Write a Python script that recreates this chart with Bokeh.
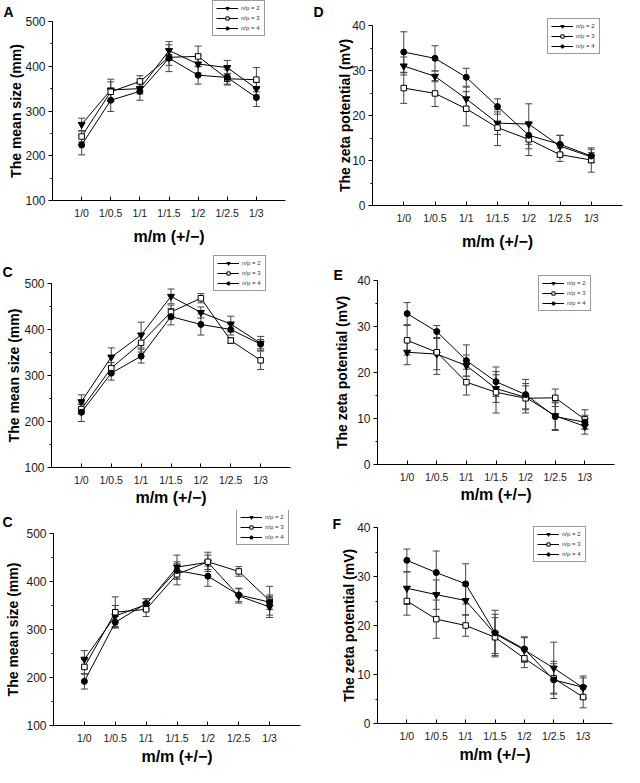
from bokeh.plotting import figure
from bokeh.models import (ColumnDataSource, Whisker, TeeHead, Legend, LegendItem, Label,
                          FixedTicker, SingleIntervalTicker, Range1d)
from bokeh.layouts import column, row
from bokeh.embed import file_html
from bokeh.resources import INLINE

FONT = "Liberation Sans"

# ---------------- data ----------------
cats = ["1/0", "1/0.5", "1/1", "1/1.5", "1/2", "1/2.5", "1/3"]
series_names = ["n/p = 2", "n/p = 3", "n/p = 4"]

# Panel A (mean size)
a_np2 = [270, 347, 350, 435, 405, 397, 350]
a_np2_err = [14, 24, 12, 20, 20, 16, 14]
a_np3 = [243, 343, 366, 420, 422, 372, 370]
a_np3_err = [12, 22, 13, 18, 23, 12, 27]
a_np4 = [224, 324, 344, 418, 380, 375, 330]
a_np4_err = [22, 25, 20, 30, 20, 17, 20]

# Panel D (zeta)
d_np2 = [31.0, 28.7, 23.7, 18.3, 18.1, 13.2, 10.8]
d_np2_err = [2.0, 1.2, 2.6, 2.5, 4.5, 2.4, 1.0]
d_np3 = [26.1, 24.9, 21.5, 17.3, 14.7, 11.3, 10.1]
d_np3_err = [3.4, 2.9, 3.8, 4.0, 3.6, 1.5, 2.7]
d_np4 = [34.1, 32.7, 28.5, 22.0, 15.6, 13.6, 11.0]
d_np4_err = [4.5, 2.8, 2.0, 1.7, 3.0, 2.0, 1.5]

# Panel C, second row (mean size)
c_np2 = [243, 340, 388, 472, 437, 412, 370]
c_np2_err = [15, 20, 28, 16, 12, 17, 15]
c_np3 = [227, 316, 371, 438, 468, 376, 333]
c_np3_err = [10, 12, 20, 15, 10, 6, 20]
c_np4 = [220, 305, 342, 428, 411, 400, 368]
c_np4_err = [20, 15, 15, 18, 23, 12, 10]

# Panel E (zeta)
e_np2 = [24.4, 24.0, 21.5, 16.5, 14.6, 10.6, 8.3]
e_np2_err = [2.7, 3.4, 2.3, 3.0, 2.5, 3.0, 1.7]
e_np3 = [27.0, 24.4, 17.9, 15.7, 14.4, 14.5, 9.8]
e_np3_err = [3.2, 4.8, 2.8, 4.5, 3.2, 1.9, 2.1]
e_np4 = [32.8, 28.9, 22.6, 18.0, 15.2, 10.4, 9.2]
e_np4_err = [2.4, 1.3, 3.4, 3.2, 3.3, 3.0, 1.5]

# Panel C, third row (mean size)
g_np2 = [238, 328, 352, 430, 440, 370, 347]
g_np2_err = [18, 22, 12, 25, 15, 15, 22]
g_np3 = [222, 336, 342, 415, 441, 421, 360]
g_np3_err = [15, 32, 15, 22, 20, 10, 30]
g_np4 = [192, 315, 354, 423, 411, 372, 357]
g_np4_err = [16, 12, 10, 18, 21, 14, 15]

# Panel F (zeta)
f_np2 = [27.6, 26.3, 25.1, 18.3, 15.0, 11.3, 7.3]
f_np2_err = [3.3, 3.0, 3.0, 4.0, 2.5, 5.3, 2.0]
f_np3 = [25.0, 21.3, 20.0, 17.6, 13.3, 9.2, 5.4]
f_np3_err = [2.9, 3.9, 2.2, 4.0, 1.9, 3.0, 2.2]
f_np4 = [33.3, 30.8, 28.5, 18.5, 15.2, 8.9, 7.4]
f_np4_err = [2.3, 4.4, 4.1, 4.6, 2.5, 3.8, 2.3]

SIZE_LABEL = "The mean size (mm)"
ZETA_LABEL = "The zeta potential (mV)"
X_LABEL = "m/m (+/\u2212)"

MARKERS = [("inverted_triangle", 7, "black"), ("square", 5.5, "white"), ("circle", 6, "black")]
LEG_H = 34
X0, X1 = -1, 7


def make_panel(letter, ylab, y0, y1, step, series, geom):
    # W, H: figure size; L, R, T, B: distance of the axis box from the figure edges
    W, H, L, R, T, B = geom["size"]
    aw = W - L - R
    ah = H - T - B
    xr = Range1d(X0 - L * (X1 - X0) / aw, X1 + R * (X1 - X0) / aw)
    yr = Range1d(y0 - B * (y1 - y0) / ah, y1 + T * (y1 - y0) / ah)
    p = figure(width=W, height=H, output_backend="svg", toolbar_location=None,
               x_range=xr, y_range=yr, min_border=0,
               x_axis_location="below", y_axis_location="left")
    p.outline_line_color = None
    p.grid.visible = False
    p.background_fill_color = "white"
    p.border_fill_color = "white"

    xs = list(range(len(cats)))
    items = []
    for name, (vals, errs), (mk, ms, fill) in zip(series_names, series, MARKERS):
        src = ColumnDataSource(dict(x=xs, y=vals,
                                    up=[v + e for v, e in zip(vals, errs)],
                                    lo=[v - e for v, e in zip(vals, errs)]))
        w = Whisker(source=src, base="x", upper="up", lower="lo",
                    line_color="#444444", line_width=1,
                    upper_head=TeeHead(size=7, line_color="#444444", line_width=1),
                    lower_head=TeeHead(size=7, line_color="#444444", line_width=1))
        p.add_layout(w)
        ln = p.line("x", "y", source=src, line_color="black", line_width=1)
        sc = p.scatter("x", "y", source=src, marker=mk, size=ms, fill_color=fill,
                       line_color="black", line_width=1)
        items.append(LegendItem(label=name, renderers=[ln, sc]))

    lx, ly = geom["legend"]
    leg = Legend(items=items, location=(lx, H - ly - LEG_H),
                 label_text_font_size="6px", label_text_font=FONT, label_text_color="#333333",
                 glyph_width=22, glyph_height=8, label_height=8, label_standoff=3,
                 spacing=2, padding=3, margin=0,
                 border_line_color="#333333", border_line_width=1,
                 background_fill_color="white", background_fill_alpha=1)
    p.add_layout(leg)

    tx, ty = geom["label"]
    p.add_layout(Label(x=tx, y=H - ty, x_units="screen", y_units="screen",
                       text=letter, text_font=FONT, text_font_style="bold",
                       text_font_size="14px", text_baseline="top", text_align="left",
                       text_color="black"))

    # x axis, pinned at y0 inside the full-canvas frame
    xa = p.xaxis[0]
    xa.fixed_location = y0
    xa.bounds = (X0, X1)
    xa.ticker = FixedTicker(ticks=xs)
    xa.major_label_overrides = {i: c for i, c in enumerate(cats)}
    xa.major_tick_in = 4
    xa.major_tick_out = 0
    xa.minor_tick_line_color = None
    xa.major_label_text_font = FONT
    xa.major_label_text_font_size = "10.5px"
    xa.major_label_text_color = "#1a1a1a"
    xa.major_label_standoff = 6
    xa.axis_label = X_LABEL
    xa.axis_label_text_font = FONT
    xa.axis_label_text_font_style = "bold"
    xa.axis_label_text_font_size = "16px"
    xa.axis_label_text_color = "black"
    xa.axis_label_standoff = geom["xstand"]
    xa.axis_line_color = "black"
    xa.major_tick_line_color = "black"

    # y axis, pinned at X0
    ya = p.yaxis[0]
    ya.fixed_location = X0
    ya.bounds = (y0, y1)
    ya.ticker = SingleIntervalTicker(interval=step, num_minor_ticks=2)
    ya.major_tick_out = 4
    ya.major_tick_in = 0
    ya.minor_tick_out = 2
    ya.minor_tick_in = 0
    ya.major_label_text_font = FONT
    ya.major_label_text_font_size = "12px"
    ya.major_label_text_color = "#1a1a1a"
    ya.major_label_standoff = 3
    ya.axis_label = ylab
    ya.axis_label_text_font = FONT
    ya.axis_label_text_font_style = "bold"
    ya.axis_label_text_font_size = "14px"
    ya.axis_label_text_color = "black"
    ya.axis_label_standoff = geom["ystand"]
    ya.axis_line_color = "black"
    ya.major_tick_line_color = "black"
    ya.minor_tick_line_color = "black"
    return p


pa = make_panel("A", SIZE_LABEL, 100, 500, 100,
                [(a_np2, a_np2_err), (a_np3, a_np3_err), (a_np4, a_np4_err)],
                dict(size=(312, 255, 52, 27, 21, 55), legend=(212, 2), label=(3, 3),
                     ystand=-2, xstand=6))
pd = make_panel("D", ZETA_LABEL, 0, 40, 10,
                [(d_np2, d_np2_err), (d_np3, d_np3_err), (d_np4, d_np4_err)],
                dict(size=(312, 255, 60, 2, 25, 50), legend=(235, 20), label=(1, 3),
                     ystand=-4, xstand=6))
pc = make_panel("C", SIZE_LABEL, 100, 500, 100,
                [(c_np2, c_np2_err), (c_np3, c_np3_err), (c_np4, c_np4_err)],
                dict(size=(312, 255, 51, 22, 28, 43), legend=(213, 2), label=(2, 8),
                     ystand=-1, xstand=0))
pe = make_panel("E", ZETA_LABEL, 0, 40, 10,
                [(e_np2, e_np2_err), (e_np3, e_np3_err), (e_np4, e_np4_err)],
                dict(size=(312, 255, 65, 10, 25, 46), legend=(226, 22), label=(21, 11),
                     ystand=4, xstand=0))
pg = make_panel("C", SIZE_LABEL, 100, 500, 100,
                [(g_np2, g_np2_err), (g_np3, g_np3_err), (g_np4, g_np4_err)],
                dict(size=(312, 257, 53, 12, 23, 42), legend=(236, 1), label=(2, 3),
                     ystand=2, xstand=1))
pf = make_panel("F", ZETA_LABEL, 0, 40, 10,
                [(f_np2, f_np2_err), (f_np3, f_np3_err), (f_np4, f_np4_err)],
                dict(size=(312, 257, 65, 12, 17, 44), legend=(221, 18), label=(20, 5),
                     ystand=-3, xstand=1))

layout = column(row(pa, pd), row(pc, pe), row(pg, pf))
open("out.html", "w").write(file_html(layout, INLINE))
